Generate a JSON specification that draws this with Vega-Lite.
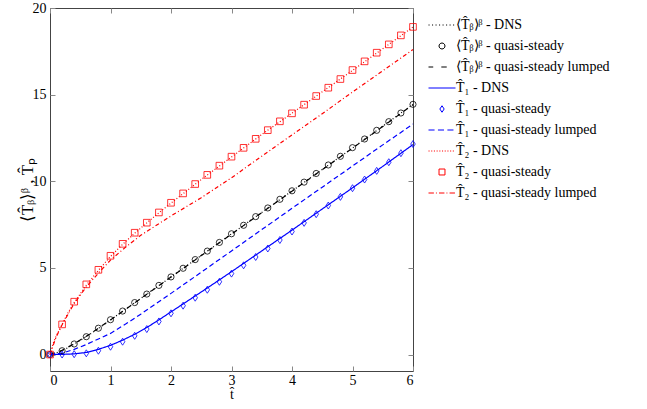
{
  "$schema": "https://vega.github.io/schema/vega-lite/v6.json",
  "width": 363,
  "height": 363,
  "autosize": "none",
  "padding": {"left": 50, "top": 8, "right": 234, "bottom": 38},
  "background": "white",
  "config": {
    "font": "Liberation Serif, Times New Roman, serif",
    "view": {"stroke": "#444444", "strokeWidth": 1},
    "axis": {"grid": false, "domain": false, "labelFont": "Liberation Serif, Times New Roman, serif", "labelFontSize": 14, "labelColor": "#000000", "titleFont": "Liberation Serif, Times New Roman, serif", "titleFontSize": 14, "titleFontWeight": "normal", "titleColor": "#000000", "tickColor": "#888888", "tickSize": -5, "tickWidth": 1},
    "legend": {"orient": "none", "legendX": 378, "legendY": 3, "title": null, "labelFont": "Liberation Serif, Times New Roman, serif", "labelFontSize": 14, "labelColor": "#000000", "symbolSize": 729, "symbolStrokeWidth": 1, "labelOffset": 0, "padding": 0, "rowPadding": 0}
  },
  "datasets": {
    "d": [
      {"series": "⟨T̂ᵦ⟩ᵝ - DNS", "t": 0, "v": 0},
      {"series": "⟨T̂ᵦ⟩ᵝ - DNS", "t": 0.1, "v": 0.09},
      {"series": "⟨T̂ᵦ⟩ᵝ - DNS", "t": 0.2, "v": 0.22},
      {"series": "⟨T̂ᵦ⟩ᵝ - DNS", "t": 0.3, "v": 0.4},
      {"series": "⟨T̂ᵦ⟩ᵝ - DNS", "t": 0.4, "v": 0.61},
      {"series": "⟨T̂ᵦ⟩ᵝ - DNS", "t": 0.6, "v": 1.03},
      {"series": "⟨T̂ᵦ⟩ᵝ - DNS", "t": 0.8, "v": 1.51},
      {"series": "⟨T̂ᵦ⟩ᵝ - DNS", "t": 1.0, "v": 2.0},
      {"series": "⟨T̂ᵦ⟩ᵝ - DNS", "t": 1.5, "v": 3.24},
      {"series": "⟨T̂ᵦ⟩ᵝ - DNS", "t": 2.0, "v": 4.48},
      {"series": "⟨T̂ᵦ⟩ᵝ - DNS", "t": 2.5, "v": 5.72},
      {"series": "⟨T̂ᵦ⟩ᵝ - DNS", "t": 3.0, "v": 6.96},
      {"series": "⟨T̂ᵦ⟩ᵝ - DNS", "t": 3.5, "v": 8.2},
      {"series": "⟨T̂ᵦ⟩ᵝ - DNS", "t": 4.0, "v": 9.44},
      {"series": "⟨T̂ᵦ⟩ᵝ - DNS", "t": 4.5, "v": 10.68},
      {"series": "⟨T̂ᵦ⟩ᵝ - DNS", "t": 5.0, "v": 11.92},
      {"series": "⟨T̂ᵦ⟩ᵝ - DNS", "t": 5.5, "v": 13.18},
      {"series": "⟨T̂ᵦ⟩ᵝ - DNS", "t": 6.0, "v": 14.44},

      {"series": "⟨T̂ᵦ⟩ᵝ - quasi-steady lumped", "t": 0, "v": 0},
      {"series": "⟨T̂ᵦ⟩ᵝ - quasi-steady lumped", "t": 0.2, "v": 0.24},
      {"series": "⟨T̂ᵦ⟩ᵝ - quasi-steady lumped", "t": 0.4, "v": 0.63},
      {"series": "⟨T̂ᵦ⟩ᵝ - quasi-steady lumped", "t": 0.6, "v": 1.05},
      {"series": "⟨T̂ᵦ⟩ᵝ - quasi-steady lumped", "t": 0.8, "v": 1.52},
      {"series": "⟨T̂ᵦ⟩ᵝ - quasi-steady lumped", "t": 1.0, "v": 2.0},
      {"series": "⟨T̂ᵦ⟩ᵝ - quasi-steady lumped", "t": 1.5, "v": 3.23},
      {"series": "⟨T̂ᵦ⟩ᵝ - quasi-steady lumped", "t": 2.0, "v": 4.47},
      {"series": "⟨T̂ᵦ⟩ᵝ - quasi-steady lumped", "t": 2.5, "v": 5.71},
      {"series": "⟨T̂ᵦ⟩ᵝ - quasi-steady lumped", "t": 3.0, "v": 6.95},
      {"series": "⟨T̂ᵦ⟩ᵝ - quasi-steady lumped", "t": 3.5, "v": 8.19},
      {"series": "⟨T̂ᵦ⟩ᵝ - quasi-steady lumped", "t": 4.0, "v": 9.43},
      {"series": "⟨T̂ᵦ⟩ᵝ - quasi-steady lumped", "t": 4.5, "v": 10.67},
      {"series": "⟨T̂ᵦ⟩ᵝ - quasi-steady lumped", "t": 5.0, "v": 11.91},
      {"series": "⟨T̂ᵦ⟩ᵝ - quasi-steady lumped", "t": 5.5, "v": 13.16},
      {"series": "⟨T̂ᵦ⟩ᵝ - quasi-steady lumped", "t": 6.0, "v": 14.42},

      {"series": "T̂₁ - DNS", "t": 0, "v": 0},
      {"series": "T̂₁ - DNS", "t": 0.2, "v": 0.01},
      {"series": "T̂₁ - DNS", "t": 0.4, "v": 0.04},
      {"series": "T̂₁ - DNS", "t": 0.6, "v": 0.12},
      {"series": "T̂₁ - DNS", "t": 0.8, "v": 0.3},
      {"series": "T̂₁ - DNS", "t": 1.0, "v": 0.53},
      {"series": "T̂₁ - DNS", "t": 1.2, "v": 0.83},
      {"series": "T̂₁ - DNS", "t": 1.4, "v": 1.17},
      {"series": "T̂₁ - DNS", "t": 1.6, "v": 1.56},
      {"series": "T̂₁ - DNS", "t": 1.8, "v": 2.0},
      {"series": "T̂₁ - DNS", "t": 2.0, "v": 2.46},
      {"series": "T̂₁ - DNS", "t": 2.2, "v": 2.92},
      {"series": "T̂₁ - DNS", "t": 2.4, "v": 3.38},
      {"series": "T̂₁ - DNS", "t": 2.6, "v": 3.84},
      {"series": "T̂₁ - DNS", "t": 3.0, "v": 4.78},
      {"series": "T̂₁ - DNS", "t": 3.5, "v": 5.98},
      {"series": "T̂₁ - DNS", "t": 4.0, "v": 7.18},
      {"series": "T̂₁ - DNS", "t": 4.5, "v": 8.4},
      {"series": "T̂₁ - DNS", "t": 5.0, "v": 9.62},
      {"series": "T̂₁ - DNS", "t": 5.5, "v": 10.86},
      {"series": "T̂₁ - DNS", "t": 6.0, "v": 12.12},

      {"series": "T̂₁ - quasi-steady lumped", "t": 0, "v": 0},
      {"series": "T̂₁ - quasi-steady lumped", "t": 0.2, "v": 0.08},
      {"series": "T̂₁ - quasi-steady lumped", "t": 0.4, "v": 0.3},
      {"series": "T̂₁ - quasi-steady lumped", "t": 0.6, "v": 0.58},
      {"series": "T̂₁ - quasi-steady lumped", "t": 0.8, "v": 0.9},
      {"series": "T̂₁ - quasi-steady lumped", "t": 1.0, "v": 1.22},
      {"series": "T̂₁ - quasi-steady lumped", "t": 1.25, "v": 1.76},
      {"series": "T̂₁ - quasi-steady lumped", "t": 1.5, "v": 2.33},
      {"series": "T̂₁ - quasi-steady lumped", "t": 1.75, "v": 2.93},
      {"series": "T̂₁ - quasi-steady lumped", "t": 2.0, "v": 3.53},
      {"series": "T̂₁ - quasi-steady lumped", "t": 2.5, "v": 4.75},
      {"series": "T̂₁ - quasi-steady lumped", "t": 3.0, "v": 5.98},
      {"series": "T̂₁ - quasi-steady lumped", "t": 3.5, "v": 7.21},
      {"series": "T̂₁ - quasi-steady lumped", "t": 4.0, "v": 8.44},
      {"series": "T̂₁ - quasi-steady lumped", "t": 4.5, "v": 9.66},
      {"series": "T̂₁ - quasi-steady lumped", "t": 5.0, "v": 10.88},
      {"series": "T̂₁ - quasi-steady lumped", "t": 5.5, "v": 12.1},
      {"series": "T̂₁ - quasi-steady lumped", "t": 6.0, "v": 13.3},

      {"series": "T̂₂ - DNS", "t": 0, "v": 0},
      {"series": "T̂₂ - DNS", "t": 0.05, "v": 0.62},
      {"series": "T̂₂ - DNS", "t": 0.1, "v": 1.05},
      {"series": "T̂₂ - DNS", "t": 0.2, "v": 1.74},
      {"series": "T̂₂ - DNS", "t": 0.3, "v": 2.42},
      {"series": "T̂₂ - DNS", "t": 0.4, "v": 3.0},
      {"series": "T̂₂ - DNS", "t": 0.6, "v": 4.0},
      {"series": "T̂₂ - DNS", "t": 0.8, "v": 4.86},
      {"series": "T̂₂ - DNS", "t": 1.0, "v": 5.66},
      {"series": "T̂₂ - DNS", "t": 1.2, "v": 6.36},
      {"series": "T̂₂ - DNS", "t": 1.4, "v": 7.0},
      {"series": "T̂₂ - DNS", "t": 1.6, "v": 7.6},
      {"series": "T̂₂ - DNS", "t": 1.8, "v": 8.18},
      {"series": "T̂₂ - DNS", "t": 2.0, "v": 8.74},
      {"series": "T̂₂ - DNS", "t": 2.5, "v": 10.1},
      {"series": "T̂₂ - DNS", "t": 3.0, "v": 11.4},
      {"series": "T̂₂ - DNS", "t": 3.5, "v": 12.7},
      {"series": "T̂₂ - DNS", "t": 4.0, "v": 13.93},
      {"series": "T̂₂ - DNS", "t": 4.5, "v": 15.16},
      {"series": "T̂₂ - DNS", "t": 5.0, "v": 16.4},
      {"series": "T̂₂ - DNS", "t": 5.5, "v": 17.65},
      {"series": "T̂₂ - DNS", "t": 6.0, "v": 18.9},

      {"series": "T̂₂ - quasi-steady lumped", "t": 0, "v": 0},
      {"series": "T̂₂ - quasi-steady lumped", "t": 0.1, "v": 1.0},
      {"series": "T̂₂ - quasi-steady lumped", "t": 0.2, "v": 1.72},
      {"series": "T̂₂ - quasi-steady lumped", "t": 0.4, "v": 2.95},
      {"series": "T̂₂ - quasi-steady lumped", "t": 0.6, "v": 3.9},
      {"series": "T̂₂ - quasi-steady lumped", "t": 0.8, "v": 4.7},
      {"series": "T̂₂ - quasi-steady lumped", "t": 1.0, "v": 5.45},
      {"series": "T̂₂ - quasi-steady lumped", "t": 1.25, "v": 6.2},
      {"series": "T̂₂ - quasi-steady lumped", "t": 1.5, "v": 6.88},
      {"series": "T̂₂ - quasi-steady lumped", "t": 2.0, "v": 8.0},
      {"series": "T̂₂ - quasi-steady lumped", "t": 2.5, "v": 9.05},
      {"series": "T̂₂ - quasi-steady lumped", "t": 3.0, "v": 10.2},
      {"series": "T̂₂ - quasi-steady lumped", "t": 3.5, "v": 11.45},
      {"series": "T̂₂ - quasi-steady lumped", "t": 4.0, "v": 12.68},
      {"series": "T̂₂ - quasi-steady lumped", "t": 4.5, "v": 13.9},
      {"series": "T̂₂ - quasi-steady lumped", "t": 5.0, "v": 15.15},
      {"series": "T̂₂ - quasi-steady lumped", "t": 5.5, "v": 16.38},
      {"series": "T̂₂ - quasi-steady lumped", "t": 6.0, "v": 17.6},

      {"series": "⟨T̂ᵦ⟩ᵝ - quasi-steady", "t": 0, "v": 0},
      {"series": "⟨T̂ᵦ⟩ᵝ - quasi-steady", "t": 0.2, "v": 0.22},
      {"series": "⟨T̂ᵦ⟩ᵝ - quasi-steady", "t": 0.4, "v": 0.61},
      {"series": "⟨T̂ᵦ⟩ᵝ - quasi-steady", "t": 0.6, "v": 1.03},
      {"series": "⟨T̂ᵦ⟩ᵝ - quasi-steady", "t": 0.8, "v": 1.52},
      {"series": "⟨T̂ᵦ⟩ᵝ - quasi-steady", "t": 1.0, "v": 2.01},
      {"series": "⟨T̂ᵦ⟩ᵝ - quasi-steady", "t": 1.2, "v": 2.51},
      {"series": "⟨T̂ᵦ⟩ᵝ - quasi-steady", "t": 1.4, "v": 3.0},
      {"series": "⟨T̂ᵦ⟩ᵝ - quasi-steady", "t": 1.6, "v": 3.49},
      {"series": "⟨T̂ᵦ⟩ᵝ - quasi-steady", "t": 1.8, "v": 3.99},
      {"series": "⟨T̂ᵦ⟩ᵝ - quasi-steady", "t": 2.0, "v": 4.48},
      {"series": "⟨T̂ᵦ⟩ᵝ - quasi-steady", "t": 2.2, "v": 4.98},
      {"series": "⟨T̂ᵦ⟩ᵝ - quasi-steady", "t": 2.4, "v": 5.48},
      {"series": "⟨T̂ᵦ⟩ᵝ - quasi-steady", "t": 2.6, "v": 5.97},
      {"series": "⟨T̂ᵦ⟩ᵝ - quasi-steady", "t": 2.8, "v": 6.47},
      {"series": "⟨T̂ᵦ⟩ᵝ - quasi-steady", "t": 3.0, "v": 6.97},
      {"series": "⟨T̂ᵦ⟩ᵝ - quasi-steady", "t": 3.2, "v": 7.46},
      {"series": "⟨T̂ᵦ⟩ᵝ - quasi-steady", "t": 3.4, "v": 7.96},
      {"series": "⟨T̂ᵦ⟩ᵝ - quasi-steady", "t": 3.6, "v": 8.46},
      {"series": "⟨T̂ᵦ⟩ᵝ - quasi-steady", "t": 3.8, "v": 8.96},
      {"series": "⟨T̂ᵦ⟩ᵝ - quasi-steady", "t": 4.0, "v": 9.45},
      {"series": "⟨T̂ᵦ⟩ᵝ - quasi-steady", "t": 4.2, "v": 9.95},
      {"series": "⟨T̂ᵦ⟩ᵝ - quasi-steady", "t": 4.4, "v": 10.45},
      {"series": "⟨T̂ᵦ⟩ᵝ - quasi-steady", "t": 4.6, "v": 10.94},
      {"series": "⟨T̂ᵦ⟩ᵝ - quasi-steady", "t": 4.8, "v": 11.44},
      {"series": "⟨T̂ᵦ⟩ᵝ - quasi-steady", "t": 5.0, "v": 11.94},
      {"series": "⟨T̂ᵦ⟩ᵝ - quasi-steady", "t": 5.2, "v": 12.44},
      {"series": "⟨T̂ᵦ⟩ᵝ - quasi-steady", "t": 5.4, "v": 12.94},
      {"series": "⟨T̂ᵦ⟩ᵝ - quasi-steady", "t": 5.6, "v": 13.44},
      {"series": "⟨T̂ᵦ⟩ᵝ - quasi-steady", "t": 5.8, "v": 13.94},
      {"series": "⟨T̂ᵦ⟩ᵝ - quasi-steady", "t": 6.0, "v": 14.44},

      {"series": "T̂₁ - quasi-steady", "t": 0, "v": 0},
      {"series": "T̂₁ - quasi-steady", "t": 0.2, "v": 0.0},
      {"series": "T̂₁ - quasi-steady", "t": 0.4, "v": 0.02},
      {"series": "T̂₁ - quasi-steady", "t": 0.6, "v": 0.07},
      {"series": "T̂₁ - quasi-steady", "t": 0.8, "v": 0.22},
      {"series": "T̂₁ - quasi-steady", "t": 1.0, "v": 0.45},
      {"series": "T̂₁ - quasi-steady", "t": 1.2, "v": 0.74},
      {"series": "T̂₁ - quasi-steady", "t": 1.4, "v": 1.08},
      {"series": "T̂₁ - quasi-steady", "t": 1.6, "v": 1.47},
      {"series": "T̂₁ - quasi-steady", "t": 1.8, "v": 1.91},
      {"series": "T̂₁ - quasi-steady", "t": 2.0, "v": 2.38},
      {"series": "T̂₁ - quasi-steady", "t": 2.2, "v": 2.82},
      {"series": "T̂₁ - quasi-steady", "t": 2.4, "v": 3.28},
      {"series": "T̂₁ - quasi-steady", "t": 2.6, "v": 3.74},
      {"series": "T̂₁ - quasi-steady", "t": 2.8, "v": 4.2},
      {"series": "T̂₁ - quasi-steady", "t": 3.0, "v": 4.67},
      {"series": "T̂₁ - quasi-steady", "t": 3.2, "v": 5.15},
      {"series": "T̂₁ - quasi-steady", "t": 3.4, "v": 5.63},
      {"series": "T̂₁ - quasi-steady", "t": 3.6, "v": 6.12},
      {"series": "T̂₁ - quasi-steady", "t": 3.8, "v": 6.61},
      {"series": "T̂₁ - quasi-steady", "t": 4.0, "v": 7.1},
      {"series": "T̂₁ - quasi-steady", "t": 4.2, "v": 7.6},
      {"series": "T̂₁ - quasi-steady", "t": 4.4, "v": 8.1},
      {"series": "T̂₁ - quasi-steady", "t": 4.6, "v": 8.6},
      {"series": "T̂₁ - quasi-steady", "t": 4.8, "v": 9.1},
      {"series": "T̂₁ - quasi-steady", "t": 5.0, "v": 9.6},
      {"series": "T̂₁ - quasi-steady", "t": 5.2, "v": 10.1},
      {"series": "T̂₁ - quasi-steady", "t": 5.4, "v": 10.6},
      {"series": "T̂₁ - quasi-steady", "t": 5.6, "v": 11.1},
      {"series": "T̂₁ - quasi-steady", "t": 5.8, "v": 11.62},
      {"series": "T̂₁ - quasi-steady", "t": 6.0, "v": 12.15},

      {"series": "T̂₂ - quasi-steady", "t": 0, "v": 0},
      {"series": "T̂₂ - quasi-steady", "t": 0.2, "v": 1.74},
      {"series": "T̂₂ - quasi-steady", "t": 0.4, "v": 3.05},
      {"series": "T̂₂ - quasi-steady", "t": 0.6, "v": 4.05},
      {"series": "T̂₂ - quasi-steady", "t": 0.8, "v": 4.89},
      {"series": "T̂₂ - quasi-steady", "t": 1.0, "v": 5.7},
      {"series": "T̂₂ - quasi-steady", "t": 1.2, "v": 6.39},
      {"series": "T̂₂ - quasi-steady", "t": 1.4, "v": 7.03},
      {"series": "T̂₂ - quasi-steady", "t": 1.6, "v": 7.61},
      {"series": "T̂₂ - quasi-steady", "t": 1.8, "v": 8.2},
      {"series": "T̂₂ - quasi-steady", "t": 2.0, "v": 8.76},
      {"series": "T̂₂ - quasi-steady", "t": 2.2, "v": 9.3},
      {"series": "T̂₂ - quasi-steady", "t": 2.4, "v": 9.84},
      {"series": "T̂₂ - quasi-steady", "t": 2.6, "v": 10.37},
      {"series": "T̂₂ - quasi-steady", "t": 2.8, "v": 10.9},
      {"series": "T̂₂ - quasi-steady", "t": 3.0, "v": 11.42},
      {"series": "T̂₂ - quasi-steady", "t": 3.2, "v": 11.93},
      {"series": "T̂₂ - quasi-steady", "t": 3.4, "v": 12.45},
      {"series": "T̂₂ - quasi-steady", "t": 3.6, "v": 12.95},
      {"series": "T̂₂ - quasi-steady", "t": 3.8, "v": 13.46},
      {"series": "T̂₂ - quasi-steady", "t": 4.0, "v": 13.92},
      {"series": "T̂₂ - quasi-steady", "t": 4.2, "v": 14.42},
      {"series": "T̂₂ - quasi-steady", "t": 4.4, "v": 14.92},
      {"series": "T̂₂ - quasi-steady", "t": 4.6, "v": 15.4},
      {"series": "T̂₂ - quasi-steady", "t": 4.8, "v": 15.9},
      {"series": "T̂₂ - quasi-steady", "t": 5.0, "v": 16.42},
      {"series": "T̂₂ - quasi-steady", "t": 5.2, "v": 16.92},
      {"series": "T̂₂ - quasi-steady", "t": 5.4, "v": 17.42},
      {"series": "T̂₂ - quasi-steady", "t": 5.6, "v": 17.9},
      {"series": "T̂₂ - quasi-steady", "t": 5.8, "v": 18.42},
      {"series": "T̂₂ - quasi-steady", "t": 6.0, "v": 18.91}
    ],
    "keys": [
      {"series": "⟨T̂ᵦ⟩ᵝ - DNS", "t": 0, "v": 0},
      {"series": "⟨T̂ᵦ⟩ᵝ - quasi-steady", "t": 0, "v": 0},
      {"series": "⟨T̂ᵦ⟩ᵝ - quasi-steady lumped", "t": 0, "v": 0},
      {"series": "T̂₁ - DNS", "t": 0, "v": 0},
      {"series": "T̂₁ - quasi-steady", "t": 0, "v": 0},
      {"series": "T̂₁ - quasi-steady lumped", "t": 0, "v": 0},
      {"series": "T̂₂ - DNS", "t": 0, "v": 0},
      {"series": "T̂₂ - quasi-steady", "t": 0, "v": 0},
      {"series": "T̂₂ - quasi-steady lumped", "t": 0, "v": 0}
    ]
  },
  "data": {"name": "d"},
  "layer": [
    {
      "transform": [{"filter": {"field": "series", "oneOf": ["⟨T̂ᵦ⟩ᵝ - DNS", "⟨T̂ᵦ⟩ᵝ - quasi-steady lumped"]}}],
      "mark": {"type": "line", "strokeWidth": 1.2, "color": "#000000"},
      "encoding": {
        "x": {"field": "t", "type": "quantitative", "scale": {"domain": [0, 6], "nice": false, "zero": false},
              "axis": {"orient": "bottom", "values": [0, 1, 2, 3, 4, 5, 6], "format": "d", "title": "t̂", "labelPadding": 7, "titlePadding": 0}},
        "y": {"field": "v", "type": "quantitative", "scale": {"domain": [-0.95, 20], "nice": false, "zero": false},
              "axis": {"orient": "left", "values": [0, 5, 10, 15, 20], "format": "d", "title": "⟨T̂ᵦ⟩ᵝ ,  T̂ₚ", "titleFontSize": 17, "labelPadding": 9, "titlePadding": -4}},
        "strokeDash": {"field": "series", "type": "nominal", "legend": null,
                       "scale": {"domain": ["⟨T̂ᵦ⟩ᵝ - DNS", "⟨T̂ᵦ⟩ᵝ - quasi-steady lumped", "T̂₁ - DNS", "T̂₁ - quasi-steady lumped", "T̂₂ - DNS", "T̂₂ - quasi-steady lumped"],
                                 "range": [[1, 2.5], [5, 5], [1, 0], [5, 3], [1, 2], [4, 2.5, 1, 2.5]]}}
      }
    },
    {
      "transform": [{"filter": {"field": "series", "oneOf": ["T̂₁ - DNS", "T̂₁ - quasi-steady lumped"]}}],
      "mark": {"type": "line", "strokeWidth": 1.2, "color": "#0000ff"},
      "encoding": {
        "x": {"field": "t", "type": "quantitative", "axis": null},
        "y": {"field": "v", "type": "quantitative", "axis": null},
        "strokeDash": {"field": "series", "type": "nominal", "legend": null}
      }
    },
    {
      "transform": [{"filter": {"field": "series", "oneOf": ["T̂₂ - DNS", "T̂₂ - quasi-steady lumped"]}}],
      "mark": {"type": "line", "strokeWidth": 1.2, "color": "#ff0000"},
      "encoding": {
        "x": {"field": "t", "type": "quantitative", "axis": null},
        "y": {"field": "v", "type": "quantitative", "axis": null},
        "strokeDash": {"field": "series", "type": "nominal", "legend": null}
      }
    },
    {
      "transform": [{"filter": {"field": "series", "equal": "⟨T̂ᵦ⟩ᵝ - quasi-steady"}}],
      "mark": {"type": "point", "shape": "circle", "filled": false, "color": "#000000", "size": 38, "strokeWidth": 0.8, "opacity": 1},
      "encoding": {
        "x": {"field": "t", "type": "quantitative", "axis": {"orient": "top", "values": [0, 1, 2, 3, 4, 5, 6], "labels": false, "title": null}},
        "y": {"field": "v", "type": "quantitative", "axis": {"orient": "right", "values": [0, 5, 10, 15, 20], "labels": false, "title": null}}
      }
    },
    {
      "transform": [{"filter": {"field": "series", "equal": "T̂₁ - quasi-steady"}}],
      "mark": {"type": "point", "shape": "M0,-1L0.65,0L0,1L-0.65,0Z", "filled": false, "color": "#0000ff", "size": 49, "strokeWidth": 0.8, "opacity": 1},
      "encoding": {
        "x": {"field": "t", "type": "quantitative", "axis": null},
        "y": {"field": "v", "type": "quantitative", "axis": null}
      }
    },
    {
      "transform": [{"filter": {"field": "series", "equal": "T̂₂ - quasi-steady"}}],
      "mark": {"type": "point", "shape": "square", "filled": false, "color": "#ff0000", "size": 44, "strokeWidth": 0.8, "opacity": 1},
      "encoding": {
        "x": {"field": "t", "type": "quantitative", "axis": null},
        "y": {"field": "v", "type": "quantitative", "axis": null}
      }
    },
    {
      "data": {"name": "keys"},
      "mark": {"type": "point", "filled": false, "opacity": 0},
      "encoding": {
        "x": {"field": "t", "type": "quantitative", "axis": null},
        "y": {"field": "v", "type": "quantitative", "axis": null},
        "color": {"field": "series", "type": "nominal",
                  "scale": {"domain": ["⟨T̂ᵦ⟩ᵝ - DNS", "⟨T̂ᵦ⟩ᵝ - quasi-steady", "⟨T̂ᵦ⟩ᵝ - quasi-steady lumped", "T̂₁ - DNS", "T̂₁ - quasi-steady", "T̂₁ - quasi-steady lumped", "T̂₂ - DNS", "T̂₂ - quasi-steady", "T̂₂ - quasi-steady lumped"],
                            "range": ["#000000", "#000000", "#000000", "#0000ff", "#0000ff", "#0000ff", "#ff0000", "#ff0000", "#ff0000"]}},
        "shape": {"field": "series", "type": "nominal",
                  "scale": {"domain": ["⟨T̂ᵦ⟩ᵝ - DNS", "⟨T̂ᵦ⟩ᵝ - quasi-steady", "⟨T̂ᵦ⟩ᵝ - quasi-steady lumped", "T̂₁ - DNS", "T̂₁ - quasi-steady", "T̂₁ - quasi-steady lumped", "T̂₂ - DNS", "T̂₂ - quasi-steady", "T̂₂ - quasi-steady lumped"],
                            "range": [
                              "M-1,0L-0.92,0M-0.74,0L-0.66,0M-0.48,0L-0.4,0M-0.22,0L-0.14,0M0.04,0L0.12,0M0.3,0L0.38,0M0.56,0L0.64,0M0.82,0L0.9,0",
                              "M0.22,0A0.22,0.22,0,1,1,-0.22,0A0.22,0.22,0,1,1,0.22,0Z",
                              "M-1,0L-0.65,0M-0.05,0L0.35,0",
                              "M-1,0L1,0",
                              "M0,-0.24L0.16,0L0,0.24L-0.16,0Z",
                              "M-1,0L-0.55,0M-0.3,0L0.15,0M0.4,0L0.85,0",
                              "M-1,0L-0.92,0M-0.8,0L-0.72,0M-0.6,0L-0.52,0M-0.4,0L-0.32,0M-0.2,0L-0.12,0M0,0L0.08,0M0.2,0L0.28,0M0.4,0L0.48,0M0.6,0L0.68,0M0.8,0L0.88,0",
                              "M-0.22,-0.22L0.22,-0.22L0.22,0.22L-0.22,0.22Z",
                              "M-1,0L-0.6,0M-0.45,0L-0.38,0M-0.22,0L0.18,0M0.33,0L0.4,0M0.56,0L0.96,0"
                            ]}}
      }
    }
  ],
  "resolve": {"axis": {"x": "independent", "y": "independent"}}
}
